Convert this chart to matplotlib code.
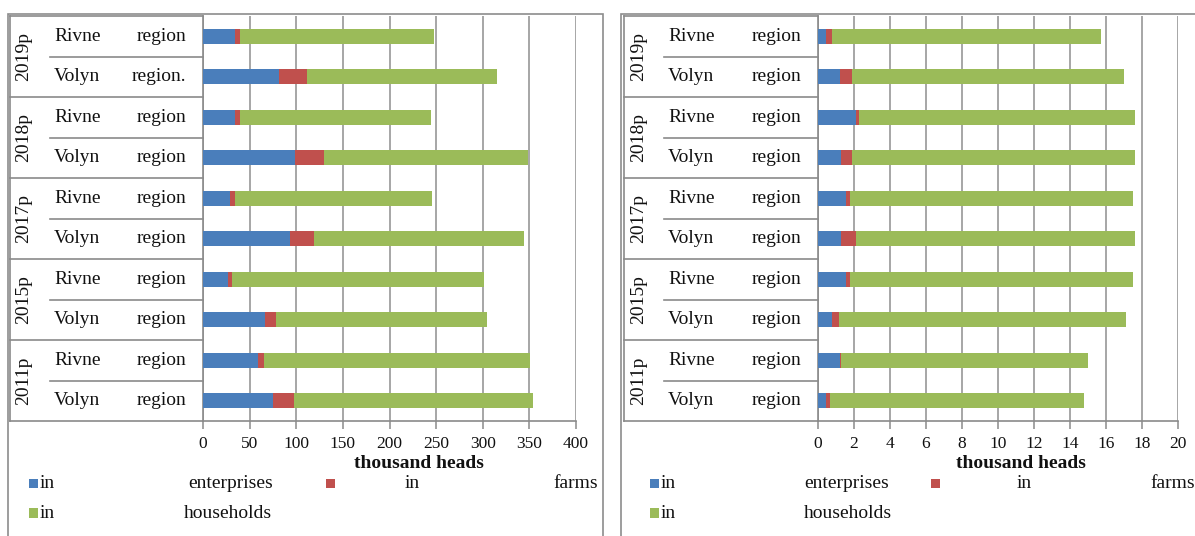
import matplotlib
matplotlib.use('Agg')
import matplotlib.pyplot as plt
from matplotlib.patches import Rectangle
from matplotlib.lines import Line2D
import matplotlib.transforms as mtrans
import numpy as np

plt.rcParams['font.family'] = ['Liberation Serif', 'DejaVu Serif']

# ---------------- data ----------------
years = ['2019p', '2018p', '2017p', '2015p', '2011p']
row_regions = ['Rivne', 'Volyn', 'Rivne', 'Volyn', 'Rivne', 'Volyn', 'Rivne', 'Volyn', 'Rivne', 'Volyn']
left_suffix = ['region', 'region.', 'region', 'region', 'region', 'region', 'region', 'region', 'region', 'region']
right_suffix = ['region'] * 10

series_names = ['in enterprises', 'in farms', 'in households']

left_enterprises = [34, 82, 34, 99, 29, 93, 27, 66, 59, 75]
left_farms = [6, 29, 6, 31, 5, 26, 4, 12, 6, 23]
left_households = [208, 204, 205, 218, 212, 225, 270, 227, 286, 256]
left_ticks = [0, 50, 100, 150, 200, 250, 300, 350, 400]

right_enterprises = [0.43, 1.2, 2.13, 1.3, 1.58, 1.3, 1.58, 0.78, 1.2, 0.47]
right_farms = [0.35, 0.7, 0.17, 0.6, 0.22, 0.8, 0.22, 0.39, 0.1, 0.22]
right_households = [14.92, 15.1, 15.3, 15.7, 15.7, 15.5, 15.7, 15.93, 13.7, 14.11]
right_ticks = [0, 2, 4, 6, 8, 10, 12, 14, 16, 18, 20]

x_label = 'thousand heads'

colors = ['#4A7EBB', '#C0504D', '#9BBB59']

W, H = 1195, 536
fig = plt.figure(figsize=(W / 100, H / 100), dpi=100)


def fx(px):
    return px / W


def fy(py):
    return 1 - py / H


GRID = '#a6a6a6'
LINE = '#8a8a8a'
TXT = '#111111'


def panel(ax_left, ax_right, ax_top, ax_bot, ticks, ent, farm, hh, suffix,
          tab_left, year_right, year_x, rname_x, rsuf_x, label_cx,
          border_left, border_right,
          leg):
    # outer panel border
    fig.add_artist(Rectangle((fx(border_left), fy(H + 5)), fx(border_right - border_left),
                             fy(14) - fy(H + 5), transform=fig.transFigure,
                             fill=False, edgecolor='#8c8c8c', lw=1.2))
    ax = fig.add_axes([fx(ax_left), fy(ax_bot), fx(ax_right - ax_left), fy(ax_top) - fy(ax_bot)])
    n = len(ent)
    y = np.arange(n)
    ent = np.array(ent); farm = np.array(farm); hh = np.array(hh)
    h = 0.37
    ax.barh(y, ent, height=h, color=colors[0], zorder=3)
    ax.barh(y, farm, left=ent, height=h, color=colors[1], zorder=3)
    ax.barh(y, hh, left=ent + farm, height=h, color=colors[2], zorder=3)
    ax.set_ylim(n - 0.5, -0.5)
    ax.set_xlim(ticks[0], ticks[-1])
    ax.set_xticks(ticks)
    ax.set_xticklabels([str(t) for t in ticks], fontsize=12.5, color=TXT)
    ax.tick_params(axis='x', direction='out', length=6, width=1.1, color=LINE, pad=5)
    ax.set_yticks([])
    ax.xaxis.grid(True, color=GRID, lw=1.4, zorder=0)
    for s in ['top', 'right']:
        ax.spines[s].set_visible(False)
    ax.spines['bottom'].set_color(LINE)
    ax.spines['left'].set_color(LINE)
    ax.spines['bottom'].set_linewidth(1.2)
    ax.spines['left'].set_linewidth(1.2)

    # table of labels
    tr = mtrans.blended_transform_factory(fig.transFigure, ax.transData)
    xa = fx(ax_left)
    for yy in [-0.5, n - 0.5]:
        fig.add_artist(Line2D([fx(tab_left), xa], [yy, yy], transform=tr, color=LINE, lw=1.2))
    fig.add_artist(Line2D([fx(tab_left), fx(tab_left)], [-0.5, n - 0.5], transform=tr, color=LINE, lw=1.2))
    for i in range(n - 1):
        yy = i + 0.5
        if i % 2 == 1:
            fig.add_artist(Line2D([fx(tab_left), xa], [yy, yy], transform=tr, color=LINE, lw=1.2))
        else:
            fig.add_artist(Line2D([fx(year_right), xa], [yy, yy], transform=tr, color=LINE, lw=1.2))
    for k, yr in enumerate(years):
        fig.text(fx(year_x), 2 * k + 0.5, yr, transform=tr, rotation=90, ha='center', va='center',
                 fontsize=14, color=TXT)
    for i in range(n):
        fig.text(fx(rname_x), i, row_regions[i], transform=tr, ha='left', va='center',
                 fontsize=14, color=TXT)
        fig.text(fx(rsuf_x), i, suffix[i], transform=tr, ha='right', va='center',
                 fontsize=14, color=TXT)

    fig.text(fx(label_cx), fy(463), x_label, ha='center', va='center', fontsize=14,
             fontweight='bold', color=TXT)

    # legend
    (sq1, in1, word1, sq2, in2, word2, sq3, in3, word3) = leg
    rows = [(sq1, in1, word1, 483, colors[0], 'enterprises'),
            (sq2, in2, word2, 483, colors[1], 'farms'),
            (sq3, in3, word3, 513, colors[2], 'households')]
    for sq, xin, xw, yy, c, w in rows:
        fig.add_artist(Rectangle((fx(sq), fy(yy + 4.5)), fx(9), fy(yy - 4.5) - fy(yy + 4.5),
                                 transform=fig.transFigure, facecolor=c, edgecolor='none'))
        fig.text(fx(xin), fy(yy), 'in', ha='left', va='center', fontsize=14, color=TXT)
        fig.text(fx(xw), fy(yy), w, ha='left', va='center', fontsize=14, color=TXT)
    return ax


panel(203, 576, 16, 421, left_ticks, left_enterprises, left_farms, left_households, left_suffix,
      10, 50, 24, 54, 186, 419, 8, 603,
      (29, 40, 188, 326, 405, 553, 29, 40, 184))

panel(818, 1178, 16, 421, right_ticks, right_enterprises, right_farms, right_households, right_suffix,
      624, 664, 639, 668, 801, 1021, 621, 1230,
      (650, 661, 804, 931, 1017, 1150, 650, 661, 804))

fig.savefig('out.png', dpi=100)
